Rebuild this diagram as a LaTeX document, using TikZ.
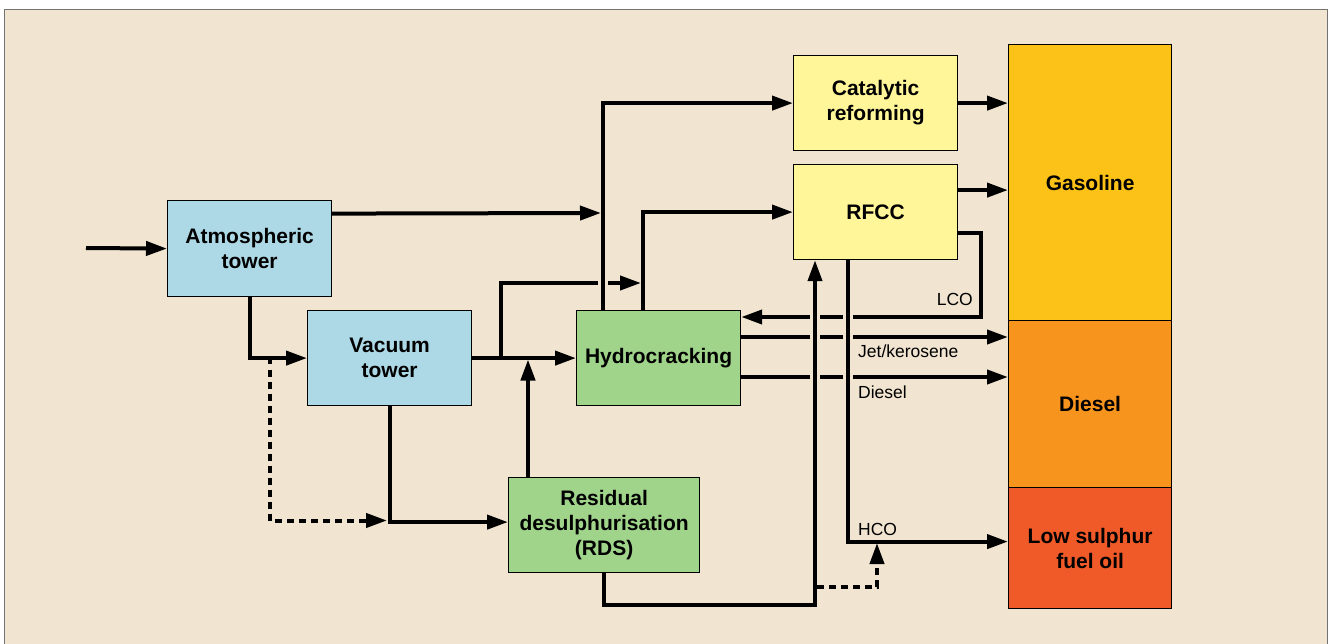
\documentclass[tikz,border=0pt]{standalone}
\usepackage{fontspec}
\setmainfont{Liberation Sans}
\usetikzlibrary{arrows.meta}

\definecolor{paper}{HTML}{F1E5D1}
\definecolor{towerblue}{HTML}{ADD9E6}
\definecolor{unitgreen}{HTML}{A1D48B}
\definecolor{unityellow}{HTML}{FFF69A}
\definecolor{gasoline}{HTML}{FDC218}
\definecolor{diesel}{HTML}{F7941E}
\definecolor{fueloil}{HTML}{F05A28}

\tikzset{
  unit/.style={draw, line width=1.2pt, anchor=north west, inner sep=0pt,
    minimum width=164, minimum height=95, align=center,
    font=\fontsize{21}{25}\selectfont\bfseries},
  pool/.style={unit, minimum width=163},
  flow/.style={line width=4pt, -{Triangle[length=21pt,width=14pt]}},
  feedline/.style={flow, dash pattern=on 7pt off 5pt},
  bridge/.style={preaction={draw=paper, line width=10pt}},
  tag/.style={font=\fontsize{17.5}{20}\selectfont, inner sep=0pt},
}

\begin{document}
\begin{tikzpicture}[x=1pt, y=-1pt]
  \useasboundingbox (0,0) rectangle (1331,644);
  \clip (0,0) rectangle (1331,644);
  \fill[white] (0,0) rectangle (1331,644);
  \draw[fill=paper, draw=black!55, line width=1.2pt] (4.5,9.5) rectangle (1327.5,660);

  % process units
  \node[unit, fill=towerblue, minimum height=96] (atm) at (167,200) {Atmospheric\\tower};
  \node[unit, fill=towerblue] (vac) at (307,310) {Vacuum\\tower};
  \node[unit, fill=unitgreen] (hyd) at (576,310) {Hydrocracking};
  \node[unit, fill=unitgreen, minimum width=191] (rds) at (508,477) {Residual\\desulphurisation\\(RDS)};
  \node[unit, fill=unityellow] (cat) at (793,55) {Catalytic\\reforming};
  \node[unit, fill=unityellow] (rfcc) at (793,164) {RFCC};

  % product pool, top to bottom
  \node[pool, fill=gasoline, minimum height=276] (gas) at (1008,44) {Gasoline};
  \node[pool, fill=diesel, minimum height=167] (dsl) at (1008,320) {Diesel};
  \node[pool, fill=fueloil, minimum height=121] (lsfo) at (1008,487) {Low sulphur\\fuel oil};

  % free ends and junctions
  \coordinate (feed) at (86,248);
  \coordinate (split) at (270,357.5);
  \coordinate (vjoin) at (501,357.5);
  \coordinate (crack) at (641,283);
  \coordinate (dotend) at (387,520.5);
  \coordinate (hjoin) at (528,359.5);
  \coordinate (riser) at (601,213);
  \coordinate (atmtop) at ([yshift=35pt]atm.east);
  \coordinate (rfcctop) at ([yshift=22pt]rfcc.east);
  \coordinate (lcoout) at ([yshift=-21pt]rfcc.east);
  \coordinate (lco) at (981,317);
  \coordinate (jet) at ([yshift=-27pt]hyd.north east);
  \coordinate (dieselout) at ([yshift=-67pt]hyd.north east);
  \coordinate (hcoout) at ([xshift=55pt]rfcc.south west);
  \coordinate (hco) at ([yshift=6.5pt]lsfo.west);
  \coordinate (rdsloop) at (815,605);
  \coordinate (bypass) at (817,587);
  \coordinate (hcojoin) at (877,543);

  % lines that are crossed
  \draw[flow] (lcoout) -| (lco) -- (lco -| hyd.east);
  \draw[flow] (jet) -- (jet -| dsl.west);
  \draw[flow] (dieselout) -- (dieselout -| dsl.west);
  \draw[flow] (vjoin) |- (crack);

  % lines that cross over
  \draw[flow, bridge] ([xshift=27pt]hyd.north west) |- (cat.west);
  \draw[flow, bridge] (rds.south) |- (rdsloop) -- (rdsloop |- rfcc.south);
  \draw[flow, bridge] (hcoout) |- (hco);

  % remaining flows
  \draw[flow] (feed) -- (atm.west);
  \draw[flow] (atmtop) -- (riser);
  \draw[flow] (atm.south) |- (vac.west);
  \draw[feedline] (split) |- (dotend);
  \draw[flow] (vac.south) |- ([yshift=3pt]rds.west);
  \draw[flow] (vac.east) -- (hyd.west);
  \draw[flow] ([xshift=20pt]rds.north west) -- (hjoin);
  \draw[flow] ([xshift=67pt]hyd.north west) |- (rfcc.west);
  \draw[flow] (cat.east) -- (cat.east -| gas.west);
  \draw[flow] (rfcctop) -- (rfcctop -| gas.west);
  \draw[feedline] (bypass) -| (hcojoin);

  % stream labels
  \node[tag, anchor=base east] (lcotag) at (973,306) {LCO};
  \node[tag, anchor=base west] (jettag) at (858,357) {Jet/kerosene};
  \node[tag, anchor=base west] (dsltag) at (858,399) {Diesel};
  \node[tag, anchor=base west] (hcotag) at (858,535) {HCO};
\end{tikzpicture}
\end{document}
